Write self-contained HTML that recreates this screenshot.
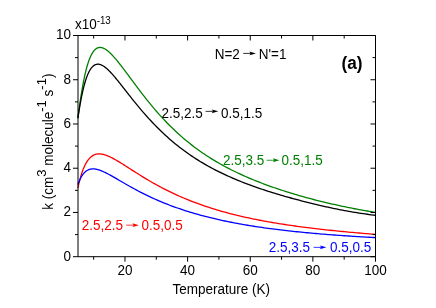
<!DOCTYPE html>
<html><head><meta charset="utf-8"><title>chart</title>
<style>html,body{margin:0;padding:0;background:#fff;width:436px;height:308px;overflow:hidden}</style>
</head><body>
<svg width="436" height="308" viewBox="0 0 436 308" style="position:absolute;left:0;top:0;will-change:transform">
<rect width="436" height="308" fill="#fff"/>
<path d="M77.90,118.23 L78.34,114.78 L78.78,111.43 L79.21,108.18 L79.65,105.04 L80.09,102.00 L80.53,99.06 L80.96,96.22 L81.40,93.48 L81.84,90.83 L82.28,88.29 L82.72,85.83 L83.15,83.47 L83.59,81.21 L84.03,79.03 L84.47,76.95 L84.91,74.95 L85.34,73.04 L85.78,71.22 L86.22,69.48 L86.66,67.82 L87.09,66.25 L87.53,64.76 L87.97,63.34 L88.41,62.01 L88.85,60.74 L89.28,59.55 L89.72,58.43 L90.16,57.38 L90.60,56.40 L91.03,55.47 L91.47,54.61 L91.91,53.81 L92.35,53.07 L92.79,52.38 L93.22,51.74 L93.66,51.16 L94.10,50.63 L94.54,50.14 L94.97,49.70 L95.41,49.31 L95.85,48.95 L96.29,48.64 L96.73,48.37 L97.16,48.14 L97.60,47.94 L98.04,47.78 L98.48,47.65 L98.92,47.55 L99.35,47.49 L99.79,47.46 L100.23,47.45 L100.67,47.48 L101.10,47.53 L101.54,47.60 L101.98,47.71 L102.42,47.83 L102.86,47.98 L103.29,48.15 L103.73,48.34 L104.17,48.55 L104.61,48.78 L105.04,49.02 L105.48,49.29 L105.92,49.57 L106.36,49.87 L106.80,50.19 L107.23,50.51 L107.67,50.86 L108.11,51.21 L108.55,51.58 L108.98,51.96 L109.42,52.36 L109.86,52.76 L110.30,53.18 L110.74,53.60 L111.17,54.04 L111.61,54.48 L112.05,54.94 L112.49,55.40 L112.93,55.87 L113.36,56.35 L113.80,56.83 L114.24,57.33 L114.68,57.83 L115.11,58.33 L115.55,58.84 L115.99,59.36 L116.43,59.88 L116.87,60.41 L117.30,60.94 L117.74,61.48 L118.18,62.02 L118.62,62.57 L119.05,63.12 L119.49,63.67 L119.93,64.23 L120.37,64.79 L120.81,65.35 L121.24,65.92 L121.68,66.49 L122.12,67.06 L122.56,67.63 L122.99,68.21 L123.43,68.79 L123.87,69.37 L124.31,69.95 L124.75,70.53 L125.18,71.11 L125.62,71.70 L126.06,72.28 L126.50,72.87 L126.94,73.46 L127.37,74.05 L127.81,74.64 L128.25,75.23 L128.69,75.82 L129.12,76.41 L129.56,77.00 L130.00,77.59 L132.06,80.38 L134.13,83.16 L136.19,85.92 L138.25,88.66 L140.32,91.38 L142.38,94.06 L144.44,96.71 L146.50,99.32 L148.57,101.89 L150.63,104.41 L152.69,106.89 L154.76,109.33 L156.82,111.72 L158.88,114.06 L160.95,116.35 L163.01,118.59 L165.07,120.78 L167.13,122.93 L169.20,125.03 L171.26,127.08 L173.32,129.08 L175.39,131.03 L177.45,132.94 L179.51,134.81 L181.58,136.63 L183.64,138.41 L185.70,140.15 L187.76,141.84 L189.83,143.50 L191.89,145.12 L193.95,146.70 L196.02,148.24 L198.08,149.75 L200.14,151.22 L202.21,152.66 L204.27,154.06 L206.33,155.43 L208.39,156.77 L210.46,158.09 L212.52,159.37 L214.58,160.62 L216.65,161.84 L218.71,163.04 L220.77,164.21 L222.84,165.36 L224.90,166.48 L226.96,167.58 L229.03,168.66 L231.09,169.71 L233.15,170.74 L235.21,171.75 L237.28,172.74 L239.34,173.71 L241.40,174.66 L243.47,175.60 L245.53,176.51 L247.59,177.41 L249.66,178.29 L251.72,179.16 L253.78,180.01 L255.84,180.84 L257.91,181.66 L259.97,182.46 L262.03,183.25 L264.10,184.03 L266.16,184.80 L268.22,185.55 L270.29,186.29 L272.35,187.02 L274.41,187.74 L276.47,188.44 L278.54,189.14 L280.60,189.82 L282.66,190.50 L284.73,191.16 L286.79,191.81 L288.85,192.46 L290.92,193.09 L292.98,193.72 L295.04,194.34 L297.11,194.94 L299.17,195.54 L301.23,196.13 L303.29,196.71 L305.36,197.29 L307.42,197.85 L309.48,198.41 L311.55,198.96 L313.61,199.50 L315.67,200.03 L317.74,200.55 L319.80,201.07 L321.86,201.58 L323.92,202.08 L325.99,202.58 L328.05,203.07 L330.11,203.55 L332.18,204.02 L334.24,204.48 L336.30,204.94 L338.37,205.39 L340.43,205.84 L342.49,206.28 L344.55,206.71 L346.62,207.13 L348.68,207.55 L350.74,207.96 L352.81,208.36 L354.87,208.76 L356.93,209.15 L359.00,209.53 L361.06,209.91 L363.12,210.28 L365.18,210.64 L367.25,211.00 L369.31,211.35 L371.37,211.69 L373.44,212.03 L375.50,212.36" fill="none" stroke="#008000" stroke-width="1.3" stroke-linejoin="round"/>
<path d="M77.90,118.05 L78.34,115.17 L78.78,112.37 L79.21,109.65 L79.65,107.03 L80.09,104.49 L80.53,102.06 L80.96,99.71 L81.40,97.46 L81.84,95.30 L82.28,93.24 L82.72,91.26 L83.15,89.38 L83.59,87.58 L84.03,85.87 L84.47,84.25 L84.91,82.70 L85.34,81.24 L85.78,79.85 L86.22,78.54 L86.66,77.30 L87.09,76.13 L87.53,75.03 L87.97,73.99 L88.41,73.03 L88.85,72.12 L89.28,71.27 L89.72,70.48 L90.16,69.75 L90.60,69.07 L91.03,68.44 L91.47,67.87 L91.91,67.34 L92.35,66.86 L92.79,66.43 L93.22,66.03 L93.66,65.68 L94.10,65.38 L94.54,65.11 L94.97,64.87 L95.41,64.68 L95.85,64.52 L96.29,64.39 L96.73,64.29 L97.16,64.23 L97.60,64.19 L98.04,64.19 L98.48,64.21 L98.92,64.26 L99.35,64.33 L99.79,64.43 L100.23,64.55 L100.67,64.70 L101.10,64.86 L101.54,65.05 L101.98,65.25 L102.42,65.48 L102.86,65.72 L103.29,65.99 L103.73,66.26 L104.17,66.56 L104.61,66.87 L105.04,67.19 L105.48,67.53 L105.92,67.88 L106.36,68.25 L106.80,68.62 L107.23,69.01 L107.67,69.41 L108.11,69.82 L108.55,70.24 L108.98,70.68 L109.42,71.11 L109.86,71.56 L110.30,72.02 L110.74,72.48 L111.17,72.95 L111.61,73.43 L112.05,73.92 L112.49,74.41 L112.93,74.90 L113.36,75.41 L113.80,75.91 L114.24,76.43 L114.68,76.94 L115.11,77.46 L115.55,77.99 L115.99,78.52 L116.43,79.05 L116.87,79.58 L117.30,80.12 L117.74,80.66 L118.18,81.20 L118.62,81.75 L119.05,82.30 L119.49,82.85 L119.93,83.40 L120.37,83.95 L120.81,84.50 L121.24,85.06 L121.68,85.61 L122.12,86.17 L122.56,86.73 L122.99,87.29 L123.43,87.85 L123.87,88.40 L124.31,88.96 L124.75,89.52 L125.18,90.08 L125.62,90.64 L126.06,91.20 L126.50,91.76 L126.94,92.32 L127.37,92.88 L127.81,93.44 L128.25,93.99 L128.69,94.55 L129.12,95.11 L129.56,95.66 L130.00,96.22 L132.06,98.81 L134.13,101.38 L136.19,103.92 L138.25,106.42 L140.32,108.89 L142.38,111.31 L144.44,113.69 L146.50,116.03 L148.57,118.32 L150.63,120.56 L152.69,122.76 L154.76,124.91 L156.82,127.01 L158.88,129.07 L160.95,131.08 L163.01,133.05 L165.07,134.97 L167.13,136.85 L169.20,138.68 L171.26,140.47 L173.32,142.21 L175.39,143.92 L177.45,145.58 L179.51,147.20 L181.58,148.79 L183.64,150.33 L185.70,151.84 L187.76,153.31 L189.83,154.75 L191.89,156.15 L193.95,157.52 L196.02,158.85 L198.08,160.16 L200.14,161.43 L202.21,162.68 L204.27,163.89 L206.33,165.08 L208.39,166.24 L210.46,167.37 L212.52,168.48 L214.58,169.57 L216.65,170.63 L218.71,171.66 L220.77,172.68 L222.84,173.67 L224.90,174.64 L226.96,175.60 L229.03,176.53 L231.09,177.44 L233.15,178.34 L235.21,179.21 L237.28,180.07 L239.34,180.92 L241.40,181.74 L243.47,182.56 L245.53,183.35 L247.59,184.14 L249.66,184.90 L251.72,185.66 L253.78,186.40 L255.84,187.13 L257.91,187.85 L259.97,188.56 L262.03,189.25 L264.10,189.93 L266.16,190.61 L268.22,191.27 L270.29,191.93 L272.35,192.57 L274.41,193.21 L276.47,193.83 L278.54,194.45 L280.60,195.06 L282.66,195.66 L284.73,196.26 L286.79,196.85 L288.85,197.43 L290.92,198.00 L292.98,198.57 L295.04,199.13 L297.11,199.69 L299.17,200.23 L301.23,200.78 L303.29,201.31 L305.36,201.84 L307.42,202.36 L309.48,202.88 L311.55,203.39 L313.61,203.89 L315.67,204.39 L317.74,204.88 L319.80,205.36 L321.86,205.84 L323.92,206.31 L325.99,206.77 L328.05,207.23 L330.11,207.68 L332.18,208.11 L334.24,208.55 L336.30,208.97 L338.37,209.39 L340.43,209.79 L342.49,210.19 L344.55,210.58 L346.62,210.96 L348.68,211.34 L350.74,211.70 L352.81,212.05 L354.87,212.39 L356.93,212.73 L359.00,213.05 L361.06,213.37 L363.12,213.67 L365.18,213.96 L367.25,214.24 L369.31,214.52 L371.37,214.78 L373.44,215.03 L375.50,215.26" fill="none" stroke="#000000" stroke-width="1.3" stroke-linejoin="round"/>
<path d="M77.90,188.06 L78.34,186.04 L78.78,184.11 L79.21,182.28 L79.65,180.53 L80.09,178.88 L80.53,177.30 L80.96,175.80 L81.40,174.38 L81.84,173.03 L82.28,171.75 L82.72,170.53 L83.15,169.38 L83.59,168.29 L84.03,167.26 L84.47,166.28 L84.91,165.35 L85.34,164.48 L85.78,163.65 L86.22,162.88 L86.66,162.14 L87.09,161.45 L87.53,160.80 L87.97,160.19 L88.41,159.61 L88.85,159.08 L89.28,158.57 L89.72,158.10 L90.16,157.66 L90.60,157.26 L91.03,156.88 L91.47,156.53 L91.91,156.20 L92.35,155.90 L92.79,155.63 L93.22,155.38 L93.66,155.15 L94.10,154.95 L94.54,154.77 L94.97,154.60 L95.41,154.46 L95.85,154.33 L96.29,154.23 L96.73,154.14 L97.16,154.06 L97.60,154.00 L98.04,153.96 L98.48,153.93 L98.92,153.92 L99.35,153.92 L99.79,153.93 L100.23,153.96 L100.67,153.99 L101.10,154.04 L101.54,154.10 L101.98,154.17 L102.42,154.25 L102.86,154.34 L103.29,154.44 L103.73,154.55 L104.17,154.67 L104.61,154.79 L105.04,154.92 L105.48,155.06 L105.92,155.21 L106.36,155.37 L106.80,155.53 L107.23,155.70 L107.67,155.87 L108.11,156.05 L108.55,156.24 L108.98,156.43 L109.42,156.62 L109.86,156.83 L110.30,157.03 L110.74,157.24 L111.17,157.46 L111.61,157.68 L112.05,157.90 L112.49,158.13 L112.93,158.36 L113.36,158.59 L113.80,158.83 L114.24,159.07 L114.68,159.31 L115.11,159.56 L115.55,159.80 L115.99,160.06 L116.43,160.31 L116.87,160.56 L117.30,160.82 L117.74,161.08 L118.18,161.34 L118.62,161.61 L119.05,161.87 L119.49,162.14 L119.93,162.40 L120.37,162.67 L120.81,162.94 L121.24,163.21 L121.68,163.49 L122.12,163.76 L122.56,164.03 L122.99,164.31 L123.43,164.59 L123.87,164.86 L124.31,165.14 L124.75,165.42 L125.18,165.70 L125.62,165.98 L126.06,166.26 L126.50,166.54 L126.94,166.82 L127.37,167.10 L127.81,167.38 L128.25,167.66 L128.69,167.94 L129.12,168.22 L129.56,168.50 L130.00,168.78 L132.06,170.10 L134.13,171.42 L136.19,172.73 L138.25,174.03 L140.32,175.31 L142.38,176.58 L144.44,177.84 L146.50,179.08 L148.57,180.30 L150.63,181.50 L152.69,182.69 L154.76,183.85 L156.82,184.99 L158.88,186.12 L160.95,187.22 L163.01,188.30 L165.07,189.36 L167.13,190.40 L169.20,191.42 L171.26,192.42 L173.32,193.41 L175.39,194.37 L177.45,195.31 L179.51,196.23 L181.58,197.13 L183.64,198.01 L185.70,198.88 L187.76,199.72 L189.83,200.55 L191.89,201.36 L193.95,202.15 L196.02,202.93 L198.08,203.69 L200.14,204.43 L202.21,205.15 L204.27,205.86 L206.33,206.56 L208.39,207.24 L210.46,207.90 L212.52,208.55 L214.58,209.19 L216.65,209.81 L218.71,210.42 L220.77,211.02 L222.84,211.60 L224.90,212.17 L226.96,212.73 L229.03,213.28 L231.09,213.82 L233.15,214.34 L235.21,214.85 L237.28,215.36 L239.34,215.85 L241.40,216.33 L243.47,216.80 L245.53,217.26 L247.59,217.72 L249.66,218.16 L251.72,218.60 L253.78,219.02 L255.84,219.44 L257.91,219.85 L259.97,220.25 L262.03,220.64 L264.10,221.03 L266.16,221.41 L268.22,221.78 L270.29,222.14 L272.35,222.50 L274.41,222.85 L276.47,223.19 L278.54,223.53 L280.60,223.86 L282.66,224.18 L284.73,224.50 L286.79,224.81 L288.85,225.12 L290.92,225.42 L292.98,225.72 L295.04,226.01 L297.11,226.29 L299.17,226.57 L301.23,226.85 L303.29,227.12 L305.36,227.38 L307.42,227.65 L309.48,227.90 L311.55,228.16 L313.61,228.41 L315.67,228.65 L317.74,228.89 L319.80,229.13 L321.86,229.36 L323.92,229.59 L325.99,229.82 L328.05,230.04 L330.11,230.26 L332.18,230.48 L334.24,230.69 L336.30,230.90 L338.37,231.10 L340.43,231.31 L342.49,231.51 L344.55,231.71 L346.62,231.90 L348.68,232.09 L350.74,232.28 L352.81,232.47 L354.87,232.65 L356.93,232.84 L359.00,233.02 L361.06,233.19 L363.12,233.37 L365.18,233.54 L367.25,233.71 L369.31,233.88 L371.37,234.05 L373.44,234.22 L375.50,234.38" fill="none" stroke="#ff0000" stroke-width="1.3" stroke-linejoin="round"/>
<path d="M77.90,184.55 L78.34,183.34 L78.78,182.21 L79.21,181.14 L79.65,180.14 L80.09,179.20 L80.53,178.31 L80.96,177.49 L81.40,176.72 L81.84,176.00 L82.28,175.32 L82.72,174.70 L83.15,174.11 L83.59,173.57 L84.03,173.06 L84.47,172.60 L84.91,172.17 L85.34,171.77 L85.78,171.41 L86.22,171.07 L86.66,170.77 L87.09,170.49 L87.53,170.24 L87.97,170.01 L88.41,169.81 L88.85,169.63 L89.28,169.48 L89.72,169.34 L90.16,169.23 L90.60,169.13 L91.03,169.05 L91.47,168.99 L91.91,168.94 L92.35,168.91 L92.79,168.90 L93.22,168.90 L93.66,168.91 L94.10,168.93 L94.54,168.97 L94.97,169.02 L95.41,169.08 L95.85,169.16 L96.29,169.24 L96.73,169.33 L97.16,169.43 L97.60,169.54 L98.04,169.66 L98.48,169.79 L98.92,169.92 L99.35,170.06 L99.79,170.21 L100.23,170.37 L100.67,170.53 L101.10,170.70 L101.54,170.87 L101.98,171.05 L102.42,171.23 L102.86,171.42 L103.29,171.62 L103.73,171.81 L104.17,172.02 L104.61,172.22 L105.04,172.43 L105.48,172.65 L105.92,172.86 L106.36,173.08 L106.80,173.31 L107.23,173.53 L107.67,173.76 L108.11,173.99 L108.55,174.22 L108.98,174.46 L109.42,174.70 L109.86,174.94 L110.30,175.18 L110.74,175.42 L111.17,175.66 L111.61,175.91 L112.05,176.16 L112.49,176.40 L112.93,176.65 L113.36,176.90 L113.80,177.15 L114.24,177.40 L114.68,177.66 L115.11,177.91 L115.55,178.16 L115.99,178.42 L116.43,178.67 L116.87,178.93 L117.30,179.18 L117.74,179.44 L118.18,179.69 L118.62,179.95 L119.05,180.20 L119.49,180.46 L119.93,180.72 L120.37,180.97 L120.81,181.23 L121.24,181.48 L121.68,181.74 L122.12,181.99 L122.56,182.25 L122.99,182.50 L123.43,182.76 L123.87,183.01 L124.31,183.26 L124.75,183.51 L125.18,183.77 L125.62,184.02 L126.06,184.27 L126.50,184.52 L126.94,184.77 L127.37,185.02 L127.81,185.27 L128.25,185.52 L128.69,185.76 L129.12,186.01 L129.56,186.26 L130.00,186.50 L132.06,187.65 L134.13,188.78 L136.19,189.89 L138.25,190.99 L140.32,192.06 L142.38,193.11 L144.44,194.15 L146.50,195.16 L148.57,196.15 L150.63,197.12 L152.69,198.08 L154.76,199.01 L156.82,199.92 L158.88,200.81 L160.95,201.68 L163.01,202.54 L165.07,203.37 L167.13,204.19 L169.20,204.99 L171.26,205.77 L173.32,206.54 L175.39,207.28 L177.45,208.01 L179.51,208.73 L181.58,209.43 L183.64,210.11 L185.70,210.78 L187.76,211.43 L189.83,212.07 L191.89,212.69 L193.95,213.31 L196.02,213.90 L198.08,214.49 L200.14,215.06 L202.21,215.62 L204.27,216.16 L206.33,216.70 L208.39,217.22 L210.46,217.73 L212.52,218.23 L214.58,218.72 L216.65,219.20 L218.71,219.66 L220.77,220.12 L222.84,220.57 L224.90,221.01 L226.96,221.43 L229.03,221.85 L231.09,222.26 L233.15,222.67 L235.21,223.06 L237.28,223.44 L239.34,223.82 L241.40,224.19 L243.47,224.55 L245.53,224.90 L247.59,225.25 L249.66,225.59 L251.72,225.92 L253.78,226.24 L255.84,226.56 L257.91,226.87 L259.97,227.18 L262.03,227.48 L264.10,227.77 L266.16,228.06 L268.22,228.34 L270.29,228.61 L272.35,228.88 L274.41,229.15 L276.47,229.41 L278.54,229.66 L280.60,229.91 L282.66,230.16 L284.73,230.40 L286.79,230.63 L288.85,230.87 L290.92,231.09 L292.98,231.31 L295.04,231.53 L297.11,231.75 L299.17,231.96 L301.23,232.16 L303.29,232.36 L305.36,232.56 L307.42,232.76 L309.48,232.95 L311.55,233.14 L313.61,233.32 L315.67,233.50 L317.74,233.68 L319.80,233.86 L321.86,234.03 L323.92,234.20 L325.99,234.36 L328.05,234.53 L330.11,234.69 L332.18,234.84 L334.24,235.00 L336.30,235.15 L338.37,235.30 L340.43,235.45 L342.49,235.59 L344.55,235.73 L346.62,235.87 L348.68,236.01 L350.74,236.15 L352.81,236.28 L354.87,236.41 L356.93,236.54 L359.00,236.67 L361.06,236.79 L363.12,236.92 L365.18,237.04 L367.25,237.16 L369.31,237.27 L371.37,237.39 L373.44,237.51 L375.50,237.62" fill="none" stroke="#0000ff" stroke-width="1.3" stroke-linejoin="round"/>
<path d="M78.0,35.5 H375.5 V256.7 H78.0 Z" stroke="#000" stroke-width="1" fill="none"/>
<path d="M93.66,256.7 v3 M93.66,35.5 v3 M124.97,256.7 v5 M124.97,35.5 v5 M156.29,256.7 v3 M156.29,35.5 v3 M187.61,256.7 v5 M187.61,35.5 v5 M218.92,256.7 v3 M218.92,35.5 v3 M250.24,256.7 v5 M250.24,35.5 v5 M281.55,256.7 v3 M281.55,35.5 v3 M312.87,256.7 v5 M312.87,35.5 v5 M344.18,256.7 v3 M344.18,35.5 v3 M375.50,256.7 v5 M375.50,35.5 v5 M78.0,256.70 h-5 M375.5,256.70 h-5 M78.0,234.58 h-3 M375.5,234.58 h-3 M78.0,212.46 h-5 M375.5,212.46 h-5 M78.0,190.34 h-3 M375.5,190.34 h-3 M78.0,168.22 h-5 M375.5,168.22 h-5 M78.0,146.10 h-3 M375.5,146.10 h-3 M78.0,123.98 h-5 M375.5,123.98 h-5 M78.0,101.86 h-3 M375.5,101.86 h-3 M78.0,79.74 h-5 M375.5,79.74 h-5 M78.0,57.62 h-3 M375.5,57.62 h-3 M78.0,35.50 h-5 M375.5,35.50 h-5" stroke="#000" stroke-width="1" fill="none"/>
<g font-family="Liberation Sans, sans-serif" font-size="13.5" fill="#000">
<text transform="translate(124.97,274.9) scale(1,1.04)" text-anchor="middle">20</text>
<text transform="translate(187.61,274.9) scale(1,1.04)" text-anchor="middle">40</text>
<text transform="translate(250.24,274.9) scale(1,1.04)" text-anchor="middle">60</text>
<text transform="translate(312.87,274.9) scale(1,1.04)" text-anchor="middle">80</text>
<text transform="translate(375.5,274.9) scale(1,1.04)" text-anchor="middle">100</text>
<text transform="translate(70.9,260.6) scale(1,1.04)" text-anchor="end">0</text>
<text transform="translate(70.9,216.36) scale(1,1.04)" text-anchor="end">2</text>
<text transform="translate(70.9,172.12) scale(1,1.04)" text-anchor="end">4</text>
<text transform="translate(70.9,127.88) scale(1,1.04)" text-anchor="end">6</text>
<text transform="translate(70.9,83.64) scale(1,1.04)" text-anchor="end">8</text>
<text transform="translate(70.9,39.4) scale(1,1.04)" text-anchor="end">10</text>
<text transform="translate(74.9,29.25) scale(1,1.04)" >x10<tspan dy="-5.0" font-size="9.8">-13</tspan></text>
<text transform="translate(221.3,293.8) scale(1,1.04)" text-anchor="middle">Temperature (K)</text>
<text transform="translate(52.7,209.7) rotate(-90) scale(1,1.04)" >k (cm<tspan dy="-6" font-size="13">3</tspan><tspan dy="6"> molecule</tspan><tspan dy="-6" font-size="13">-1</tspan><tspan dy="6"> s</tspan><tspan dy="-6" font-size="13">-1</tspan><tspan dy="6">)</tspan></text>
</g>
<g font-family="Liberation Sans, sans-serif" font-size="13.5">
<text transform="translate(161.5,117.85) scale(1,1.04)" fill="#000000">2.5,2.5</text><path d="M205.6,111.35 H214.29999999999998" stroke="#000000" stroke-width="0.8" fill="none"/><path d="M218.29999999999998,111.35 l-6.5,-1.9 l1.3,1.9 l-1.3,1.9 z" fill="#000000"/><text transform="translate(220.9,117.85) scale(1,1.04)" fill="#000000">0.5,1.5</text>
<text transform="translate(223.0,164.85) scale(1,1.04)" fill="#008000">2.5,3.5</text><path d="M266.7,160.25 H275.4" stroke="#008000" stroke-width="0.8" fill="none"/><path d="M279.4,160.25 l-6.5,-1.9 l1.3,1.9 l-1.3,1.9 z" fill="#008000"/><text transform="translate(281.5,164.85) scale(1,1.04)" fill="#008000">0.5,1.5</text>
<text transform="translate(81.7,229.85) scale(1,1.04)" fill="#ff0000">2.5,2.5</text><path d="M126.2,225.15 H134.9" stroke="#ff0000" stroke-width="0.8" fill="none"/><path d="M138.9,225.15 l-6.5,-1.9 l1.3,1.9 l-1.3,1.9 z" fill="#ff0000"/><text transform="translate(141.5,229.85) scale(1,1.04)" fill="#ff0000">0.5,0.5</text>
<text transform="translate(268.7,252.05) scale(1,1.04)" fill="#0000ff">2.5,3.5</text><path d="M313.7,247.35 H322.4" stroke="#0000ff" stroke-width="0.8" fill="none"/><path d="M326.4,247.35 l-6.5,-1.9 l1.3,1.9 l-1.3,1.9 z" fill="#0000ff"/><text transform="translate(329.9,252.05) scale(1,1.04)" fill="#0000ff">0.5,0.5</text>
<text transform="translate(214.7,59.0) scale(1,1.04)" fill="#000000">N=2</text><path d="M243.2,53.4 H251.89999999999998" stroke="#000000" stroke-width="0.8" fill="none"/><path d="M255.89999999999998,53.4 l-6.5,-1.9 l1.3,1.9 l-1.3,1.9 z" fill="#000000"/><text transform="translate(258.8,59.0) scale(1,1.04)" fill="#000000">N'=1</text>
<text transform="translate(341.5,69.4) scale(1,1.02)" fill="#000" font-weight="bold" font-size="17.2">(a)</text>
</g>
</svg>
</body></html>
